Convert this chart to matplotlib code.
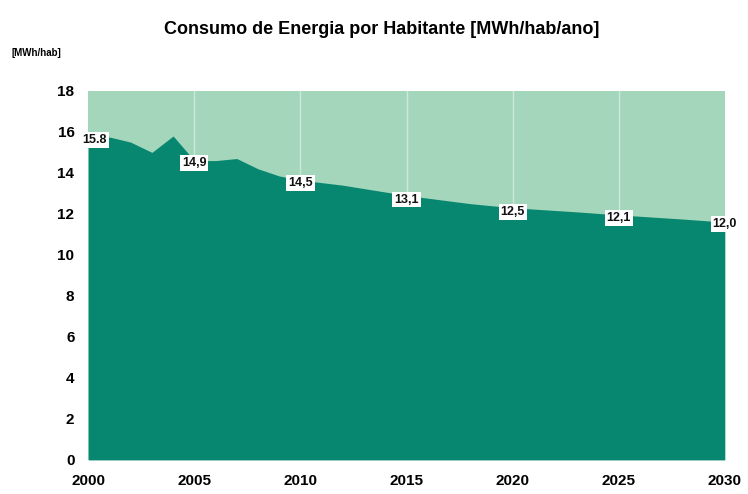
import matplotlib.pyplot as plt

plt.rcParams['font.family'] = ['Liberation Sans', 'DejaVu Sans']

# consumo por habitante (curva)
anos = [2000, 2001, 2002, 2003, 2004, 2005, 2006, 2007, 2008, 2009, 2010,
        2012, 2015, 2018, 2020, 2023, 2025, 2028, 2030]
consumo = [15.6, 15.75, 15.5, 15.0, 15.8, 14.6, 14.6, 14.7, 14.2, 13.85, 13.65,
           13.4, 12.9, 12.5, 12.3, 12.1, 11.95, 11.75, 11.6]

# rótulos
anos_rot = [2000.3, 2005, 2010, 2015, 2020, 2025, 2030]
rotulos = ['15.8', '14,9', '14,5', '13,1', '12,5', '12,1', '12,0']
y_rot = [15.6, 14.5, 13.5, 12.7, 12.1, 11.8, 11.5]

anos_ticks = [2000, 2005, 2010, 2015, 2020, 2025, 2030]
y_ticks = [0, 2, 4, 6, 8, 10, 12, 14, 16, 18]

claro = '#a3d6bb'
escuro = '#07876f'

fig = plt.figure(figsize=(7.48, 4.94), dpi=100)
ax = fig.add_axes([0.118, 0.069, 0.851, 0.747])

ax.axhspan(0, 18, color=claro, zorder=0)
for a in anos_ticks[1:-1]:
    ax.axvline(a, color='white', lw=1.0, alpha=0.45, zorder=1)
ax.fill_between(anos, consumo, 0, color=escuro, lw=0, zorder=2)

for a, y, t in zip(anos_rot, y_rot, rotulos):
    ax.text(a, y, t, ha='center', va='center', fontsize=9, fontweight='bold',
            color='#111111', zorder=3,
            bbox=dict(boxstyle='square,pad=0.15', fc='white', ec='none'))

ax.set_xlim(2000, 2030)
ax.set_ylim(0, 18)
ax.set_xticks(anos_ticks)
ax.set_yticks(y_ticks)
ax.tick_params(length=0, labelsize=11, pad=10)
for lb in ax.get_xticklabels() + ax.get_yticklabels():
    lb.set_fontweight('bold')
for s in ax.spines.values():
    s.set_visible(False)

fig.text(0.51, 0.94, 'Consumo de Energia por Habitante [MWh/hab/ano]',
         ha='center', va='center', fontsize=13, fontweight='bold')
fig.text(0.016, 0.893, '[MWh/hab]', ha='left', va='center', fontsize=7,
         fontweight='bold')

fig.savefig('out.png', dpi=100)
